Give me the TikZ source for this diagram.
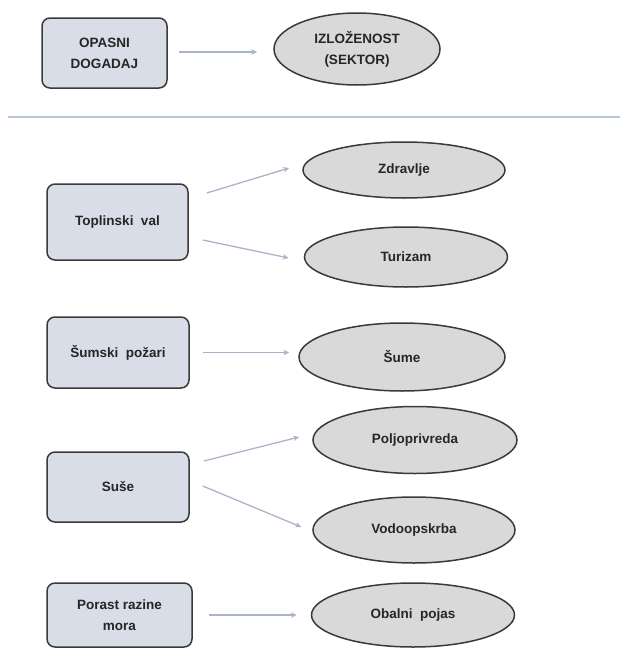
\documentclass[tikz,border=0pt]{standalone}
\usepackage{fontspec}
\setmainfont{Liberation Sans}
\usetikzlibrary{shapes.geometric,arrows.meta}
\definecolor{boxfill}{HTML}{D8DDE7}
\definecolor{ellfill}{HTML}{D9D9D9}
\definecolor{edge}{HTML}{3A3A3A}
\definecolor{arrcol}{HTML}{A9B4C8}
\definecolor{sepcol}{HTML}{B4C6DC}
\definecolor{txt}{HTML}{262626}
\begin{document}
\begin{tikzpicture}[x=1pt,y=-1pt,
  hazard/.style={draw=edge,line width=1.5pt,fill=boxfill,rounded corners=8pt,
    inner sep=0pt,align=center,text=txt,font=\fontsize{13.5}{21}\selectfont\bfseries},
  sector/.style={ellipse,draw=edge,line width=1.5pt,fill=ellfill,inner sep=0pt,
    align=center,text=txt,font=\fontsize{13.5}{21}\selectfont\bfseries},
  arr/.style={draw=arrcol,line width=1.3pt,-{Stealth[length=6pt,width=5.5pt]}}]
\useasboundingbox (0,0) rectangle (620,648);
% header
\node[hazard,minimum width=125pt,minimum height=70pt] (hdrA) at (104.5,53) {OPASNI\\DOGADAJ};
\node[sector,minimum width=166pt,minimum height=72pt] (hdrB) at (357,49) {IZLOŽENOST\\(SEKTOR)};
\draw[arr] ([xshift=11pt,yshift=1pt]hdrA.east) -- ([xshift=-16pt,yshift=-3pt]hdrB.west);
\coordinate (sepL) at (8,117);
\coordinate (sepR) at (620,117);
\draw[sepcol,line width=1.6pt] (sepL) -- (sepR);
% Toplinski val
\node[hazard,minimum width=141pt,minimum height=76pt] (top) at (117.5,222) {Toplinski\ \ val};
\node[sector,minimum width=202pt,minimum height=56pt] (zdr) at (404,170) {Zdravlje};
\node[sector,minimum width=203pt,minimum height=60pt] (tur) at (406,257) {Turizam};
\draw[arr] ([xshift=18pt,yshift=29pt]top.east) -- ([xshift=-13pt,yshift=2pt]zdr.west);
\draw[arr] ([xshift=14pt,yshift=-18pt]top.east) -- ([xshift=-15pt,yshift=-1pt]tur.west);
% Sumski pozari
\node[hazard,minimum width=142pt,minimum height=71pt] (sum) at (118,352.5) {Šumski\ \ požari};
\node[sector,minimum width=206pt,minimum height=68pt] (sume) at (402,357) {Šume};
\draw[arr] ([xshift=13pt]sum.east) -- ([xshift=-9pt,yshift=4.5pt]sume.west);
% Suse
\node[hazard,minimum width=142pt,minimum height=70pt] (suse) at (118,487) {Suše};
\node[sector,minimum width=204pt,minimum height=67pt] (polj) at (415,440) {Poljoprivreda};
\node[sector,minimum width=202pt,minimum height=66pt] (vodo) at (414,530) {Vodoopskrba};
\draw[arr] ([xshift=14pt,yshift=26pt]suse.east) -- ([xshift=-13pt,yshift=3pt]polj.west);
\draw[arr] ([xshift=13pt,yshift=1pt]suse.east) -- ([xshift=-11pt,yshift=3pt]vodo.west);
% Porast razine mora
\node[hazard,minimum width=145pt,minimum height=64pt] (por) at (119.5,615) {Porast razine\\mora};
\node[sector,minimum width=203pt,minimum height=64pt] (obal) at (413,615) {Obalni\ \ pojas};
\draw[arr] ([xshift=16pt]por.east) -- ([xshift=-14pt]obal.west);
\end{tikzpicture}
\end{document}
